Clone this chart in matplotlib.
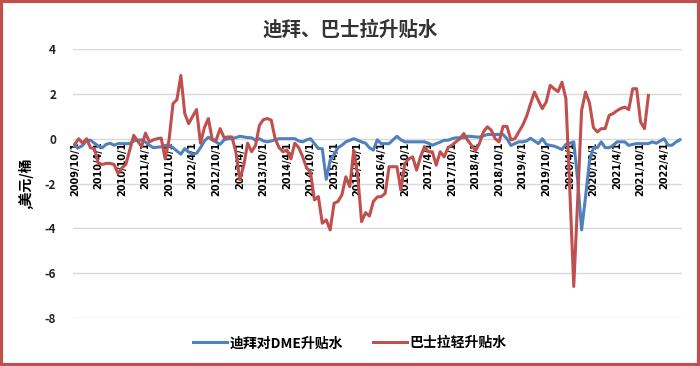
import numpy as np
import pandas as pd
import matplotlib
matplotlib.use("Agg")
import matplotlib.pyplot as plt
from matplotlib.patches import Rectangle

plt.rcParams['font.family'] = ['Noto Sans CJK SC', 'DejaVu Sans']
plt.rcParams['axes.unicode_minus'] = False

title = "迪拜、巴士拉升贴水"
ylabel = ",美元/桶"
series_names = ["迪拜对DME升贴水", "巴士拉轻升贴水"]

months = pd.date_range("2009-10-01", periods=155, freq="MS")
tick_labels = ["2009/10/1", "2010/4/1", "2010/10/1", "2011/4/1", "2011/10/1", "2012/4/1",
               "2012/10/1", "2013/4/1", "2013/10/1", "2014/4/1", "2014/10/1", "2015/4/1",
               "2015/10/1", "2016/4/1", "2016/10/1", "2017/4/1", "2017/10/1", "2018/4/1",
               "2018/10/1", "2019/4/1", "2019/10/1", "2020/4/1", "2020/10/1", "2021/4/1",
               "2021/10/1", "2022/4/1"]

dubai = [
    -0.33, -0.4, -0.3, -0.07, -0.07, -0.2, -0.33, -0.4, -0.25, -0.2,
    -0.29, -0.22, -0.22, -0.22, -0.22, -0.1, -0.07, -0.05, -0.15, -0.29,
    -0.4, -0.38, -0.36, -0.3, -0.29, -0.4, -0.55, -0.69, -0.44, -0.6,
    -0.69, -0.65, -0.4, -0.1, 0.07, -0.05, -0.15, -0.25, -0.05, 0.0,
    0.0, 0.05, 0.11, 0.08, 0.05, 0.04, -0.07, 0.0, -0.1, -0.14,
    -0.1, -0.05, 0.0, 0.0, 0.0, 0.0, 0.0, -0.1, -0.14, -0.05,
    0.0, -0.22, -0.44, -0.45, -1.81, -0.96, -0.7, -0.4, -0.29, -0.14,
    -0.07, 0.0, -0.07, -0.14, -0.2, -0.4, -0.51, -0.05, -0.22, -0.22,
    -0.22, -0.05, 0.11, -0.05, -0.14, -0.14, -0.14, -0.14, -0.14, -0.14,
    -0.2, -0.29, -0.22, -0.15, -0.07, -0.07, 0.0, 0.04, 0.04, 0.04,
    0.11, 0.1, 0.08, 0.07, 0.12, 0.19, 0.19, 0.19, 0.19, 0.19,
    0.0, -0.3, -0.22, -0.14, -0.14, -0.1, 0.02, -0.1, -0.22, 0.0,
    -0.25, -0.3, -0.33, -0.4, -0.48, -0.25, -0.2, -0.14, -1.84, -4.07,
    -2.6, -1.0, -0.4, -0.4, -0.14, -0.4, -0.4, -0.3, -0.14, -0.14,
    -0.14, -0.3, -0.25, -0.22, -0.22, -0.22, -0.22, -0.14, -0.2, -0.1,
    0.0, -0.29, -0.29, -0.15, -0.05]

basrah = [
    -0.25, 0.0, -0.2, 0.0, -0.4, -0.45, -1.1, -1.15, -1.1, -1.1,
    -1.15, -1.55, -1.3, -1.15, -0.5, 0.15, -0.1, -0.35, 0.25, -0.14,
    -0.05, 0.0, 0.03, -0.9, -0.05, 1.56, 1.74, 2.82, 1.12, 0.67,
    1.0, 1.3, -0.2, 0.5, 0.9, -0.05, -0.05, 0.45, 0.05, 0.08,
    0.08, -0.58, -1.84, -1.2, -0.2, -0.58, -0.3, 0.6, 0.85, 0.9,
    0.83, 0.0, -0.4, -0.58, -0.5, -0.9, -0.2, -0.4, -0.8, -1.3,
    -1.5, -2.73, -2.58, -3.77, -3.62, -4.07, -2.88, -2.8, -2.5, -1.7,
    -2.14, -0.51, -1.62, -3.7, -3.3, -3.45, -2.8, -2.6, -2.58, -2.44,
    -1.25, -1.25, -1.25, -2.29, -1.1, -0.9, -0.81, -1.4, -0.81, -0.36,
    -0.58, -0.58, -1.18, -0.58, -0.81, -0.4, -0.29, -0.14, 0.0, 0.23,
    -0.07, -0.3, -0.54, -0.21, 0.3, 0.53, 0.38, 0.0, -0.14, 0.55,
    0.55, -0.05, 0.0, 0.3, 0.6, 1.0, 1.56, 2.08, 1.7, 1.34,
    1.64, 2.38, 2.23, 2.1, 2.52, 1.79, -2.29, -6.59, -2.73, 1.27,
    2.08, 1.6, 0.5, 0.3, 0.45, 0.45, 1.04, 1.12, 1.25, 1.35,
    1.41, 1.3, 2.23, 2.23, 0.75, 0.45, 1.93]

yticks = [4, 2, 0, -2, -4, -6, -8]

n = len(months)
x = np.arange(n)
red_vals = np.full(n, np.nan)
red_vals[:len(basrah)] = basrah

fig = plt.figure(figsize=(7.0, 3.66), dpi=100)
ax = fig.add_axes([0.104, 0.131, 0.870, 0.735])

blue_c = "#4F81BD"
red_c = "#C0504D"

for s in ['top', 'right', 'left']:
    ax.spines[s].set_visible(False)
ax.spines['bottom'].set_position(('data', 0))
ax.spines['bottom'].set_color("#D9D9D9")
ax.spines['bottom'].set_linewidth(1.0)
ax.spines['bottom'].set_zorder(0)

for yv in yticks:
    if yv != 0:
        ax.axhline(yv, color="#D9D9D9", lw=1.0, zorder=0)

ax.plot(x, dubai, color=blue_c, lw=2.2, label=series_names[0], zorder=3)
ax.plot(x, red_vals, color=red_c, lw=2.2, label=series_names[1], zorder=3)

ax.set_xlim(-0.5, n - 0.5)
ax.set_ylim(-8, 4)
ax.set_yticks(yticks)
ax.set_yticklabels([str(v) for v in yticks], fontsize=8.5, fontweight='bold', color="#222222")
ax.tick_params(axis='y', length=0, pad=12)

tick_pos = list(range(0, n, 6))[:len(tick_labels)]
ax.set_xticks(tick_pos)
ax.set_xticklabels(tick_labels)
ax.tick_params(axis='x', length=0, pad=2)
for lab in ax.get_xticklabels():
    lab.set_rotation(90)
    lab.set_fontsize(7)
    lab.set_fontweight('bold')
    lab.set_family(['DejaVu Sans'])
    lab.set_va('top')
    lab.set_ha('center')
    lab.set_zorder(2)

ax.set_ylabel(ylabel, fontsize=10, fontweight='bold', labelpad=8)

fig.text(0.5, 0.918, title, ha='center', va='center', fontsize=14, fontweight='bold', color="#333333")

leg = fig.legend(loc='center', bbox_to_anchor=(0.5, 0.062), ncol=2, frameon=False,
                 prop={'size': 10, 'weight': 'bold'}, handlelength=2.4, columnspacing=2.2,
                 handletextpad=0.2)

fig.patches.append(Rectangle((0.002, 0.004), 0.996, 0.992, transform=fig.transFigure,
                             fill=False, edgecolor=red_c, lw=3))

fig.savefig("out.png", dpi=100)
